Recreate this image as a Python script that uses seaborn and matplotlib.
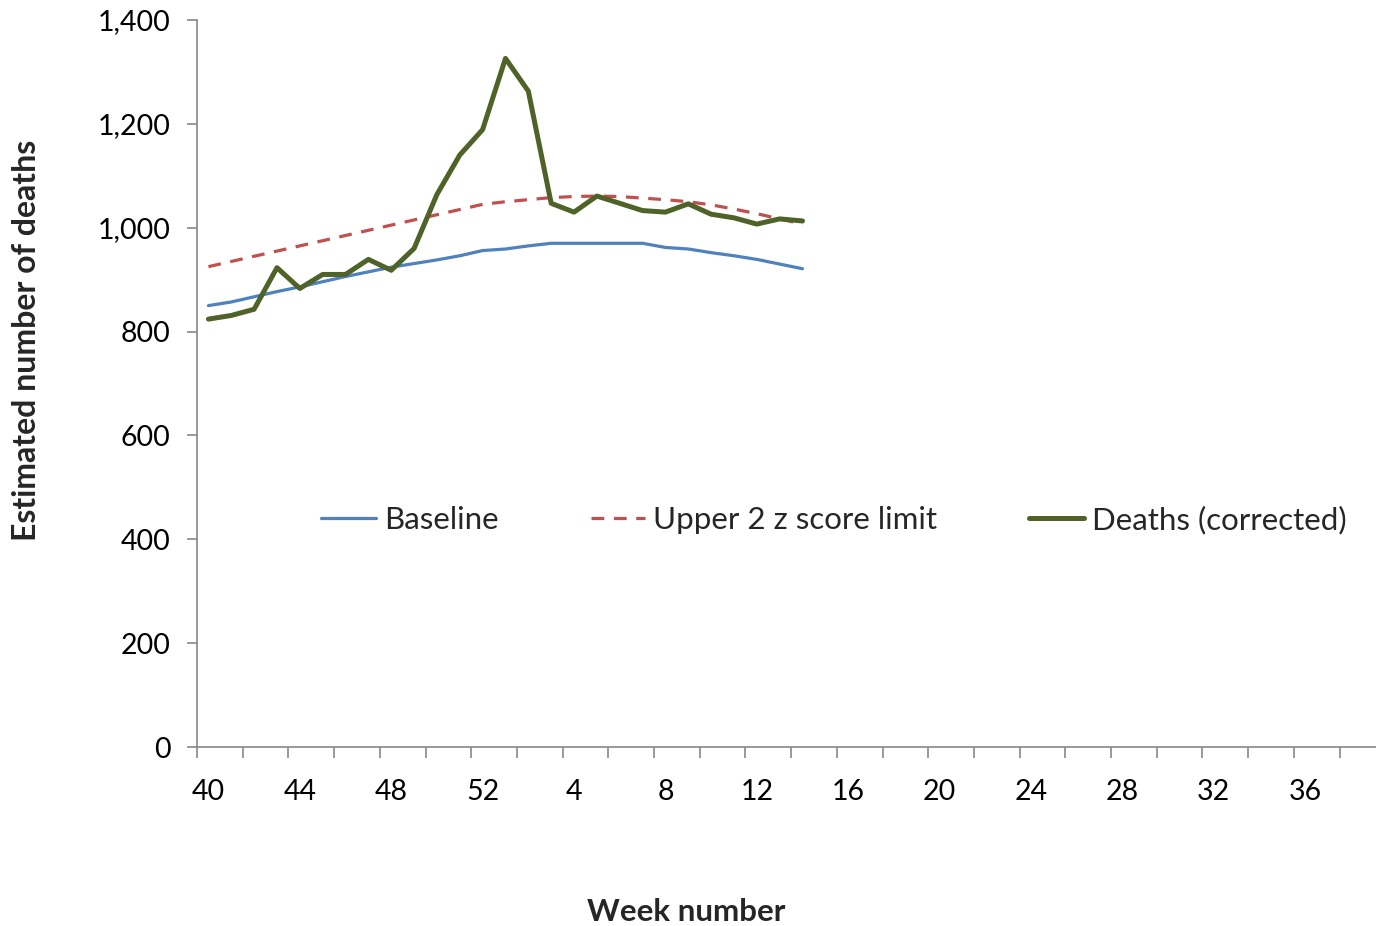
import matplotlib
matplotlib.use("Agg")
import matplotlib.pyplot as plt
import seaborn as sns
import pandas as pd
import numpy as np

# ---- data ----
weeks = [40, 41, 42, 43, 44, 45, 46, 47, 48, 49, 50, 51, 52,
         1, 2, 3, 4, 5, 6, 7, 8, 9, 10, 11, 12, 13, 14]
baseline = [850, 857, 867, 877, 886, 896, 906, 915, 924, 931, 938, 946, 956,
            959, 965, 970, 970, 970, 970, 970, 962, 959, 952, 946, 939, 930, 921]
upper_limit = [925, 935, 945, 955, 965, 975, 985, 995, 1005, 1015, 1025, 1035, 1045,
               1050, 1054, 1058, 1060, 1061, 1060, 1057, 1054, 1050, 1044, 1036, 1027, 1017, 1007]
deaths = [824, 831, 843, 923, 883, 910, 910, 939, 918, 960, 1064, 1140, 1189,
          1326, 1263, 1047, 1030, 1061, 1047, 1033, 1030, 1046, 1026, 1019, 1007, 1017, 1013]
all_weeks = list(range(40, 53)) + list(range(1, 40))
tick_label_weeks = [40, 44, 48, 52, 4, 8, 12, 16, 20, 24, 28, 32, 36]
y_ticks = [0, 200, 400, 600, 800, 1000, 1200, 1400]

series_names = ["Baseline", "Upper 2 z score limit", "Deaths (corrected)"]
colors = ["#4F81BD", "#C0504D", "#4F6228"]

pos = {w: i for i, w in enumerate(all_weeks)}
df = pd.DataFrame({
    "x": [pos[w] for w in weeks] * 3,
    "value": baseline + upper_limit + deaths,
    "series": sum([[n] * len(weeks) for n in series_names], []),
})

sns.set_theme(style="white")
plt.rcParams["font.family"] = ["Lato", "DejaVu Sans"]

W, H = 1376, 926
fig = plt.figure(figsize=(W / 100, H / 100), dpi=100)
ax = fig.add_axes([197 / W, (H - 747) / H, (W - 197) / W, (747 - 20) / H])

sns.lineplot(data=df, x="x", y="value", hue="series", style="series",
             hue_order=series_names, style_order=series_names,
             palette=dict(zip(series_names, colors)),
             dashes={series_names[0]: "", series_names[1]: (4.0, 3.0), series_names[2]: ""},
             size="series", sizes={series_names[0]: 2.3, series_names[1]: 2.3, series_names[2]: 3.6},
             size_order=series_names, ax=ax, legend=True)

# x axis: boundary ticks every 2 categories, labels every 4
ax.set_xticks(np.arange(-0.5, len(all_weeks), 2))
ax.set_xticklabels([])
ax.set_xticks([pos[w] for w in tick_label_weeks], minor=True)
ax.set_xticklabels([str(w) for w in tick_label_weeks], minor=True)
ax.tick_params(axis="x", which="major", direction="out", length=8, width=1.2, color="#888888", bottom=True)
ax.tick_params(axis="x", which="minor", length=0, pad=23, labelsize=20.5, labelcolor="black")

ax.set_yticks(y_ticks)
ax.set_yticklabels([f"{v:,}" for v in y_ticks])
ax.tick_params(axis="y", direction="out", length=7, width=1.2, color="#888888", left=True, pad=12,
               labelsize=20.5, labelcolor="black")

ax.set_xlim(-0.5, (W - 197) / 22.85 - 0.5)
ax.set_ylim(0, 1400)

for s in ["top", "right"]:
    ax.spines[s].set_visible(False)
for s in ["left", "bottom"]:
    ax.spines[s].set_color("#888888")
    ax.spines[s].set_linewidth(1.2)

ax.set_xlabel("")
ax.set_ylabel("")
fig.text(27 / W, (H - 340) / H, "Estimated number of deaths", rotation=90, ha="center", va="center",
         fontsize=23, fontweight="bold")
fig.text(686 / W, (H - 912) / H, "Week number", ha="center", va="center", fontsize=22.5, fontweight="bold")

handles, labels = ax.get_legend_handles_labels()
ax.legend(handles=handles, labels=labels, ncol=3, loc="center",
          bbox_to_anchor=(834 / W, (H - 520) / H), bbox_transform=fig.transFigure,
          frameon=False, fontsize=22.5, handlelength=1.75, handletextpad=0.25, columnspacing=2.95)

fig.savefig("out.png", dpi=100)
